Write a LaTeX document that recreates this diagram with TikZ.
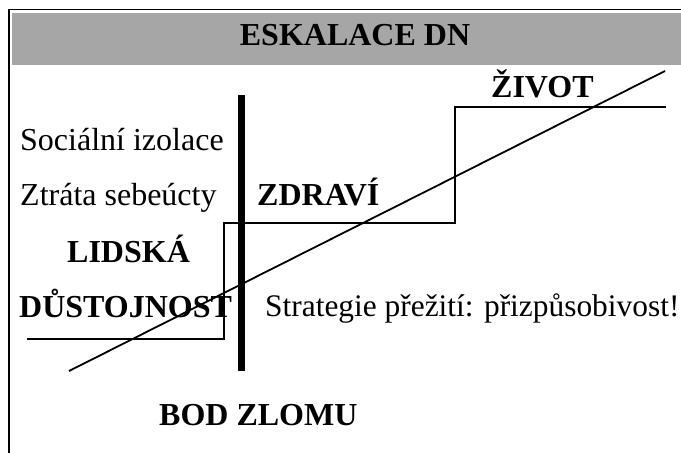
\documentclass[tikz,border=0pt]{standalone}
\usepackage{fontspec}
\setmainfont{Liberation Serif}
\definecolor{bandgray}{HTML}{A6A6A6}
\begin{document}
\begin{tikzpicture}[x=1pt,y=-1pt]

      \useasboundingbox (0,0) rectangle (681,453);

      % frame and title band
      \fill[bandgray] (12,13) rectangle (681,65);
      \draw[line width=1.8pt] (9,453) -- (9,9.5) -- (681,9.5);

      \begin{scope}[every node/.style={inner sep=0pt,anchor=base west,font=\fontsize{32}{34}\selectfont}]
        \node (title) at (355,45) [anchor=base] {\bfseries ESKALACE DN};
        \node (izolace)  at (20,150)  {Sociální izolace};
        \node (sebeucta) at (20,205)  {Ztráta sebeúcty};
        \node (lidska)   at (67,262)  {\bfseries LIDSKÁ};
        \node (dustojn)  at (19,317)  {\bfseries DŮSTOJNOST};
        \node (zdravi)   at (257,205) {\bfseries ZDRAVÍ};
        \node (zivot)    at (491,97)  {\bfseries ŽIVOT};
        \node (strateg)  at (265,316) [font=\fontsize{31.4}{34}\selectfont] {Strategie přežití: přizpůsobivost!};
        \node (zlom)     at (159,425) {\bfseries BOD ZLOMU};
      \end{scope}

      % steps
      \coordinate (s1) at (27,339);
      \coordinate (s2) at (224,339);
      \coordinate (s3) at (224,223);
      \coordinate (s4) at (455,223);
      \coordinate (s5) at (455,107);
      \coordinate (s6) at (666,107);
      \draw[line width=1.8pt] (s1) -- (s2) -- (s3) -- (s4) -- (s5) -- (s6);

      % trend and breaking point
      \coordinate (t1) at (69,371);
      \coordinate (t2) at (665,71);
      \draw[line width=1.8pt] (t1) -- (t2);
      \coordinate (b1) at (241.5,95);
      \coordinate (b2) at (241.5,371);
      \draw[line width=7pt] (b1) -- (b2);

    \end{tikzpicture}
\end{document}
